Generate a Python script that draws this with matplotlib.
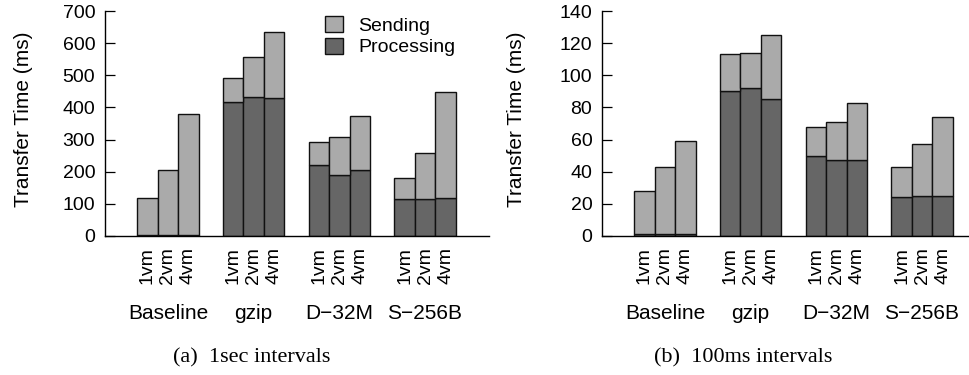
import numpy as np
import matplotlib
matplotlib.use("Agg")
import matplotlib.pyplot as plt

plt.rcParams['font.family'] = ['Liberation Sans', 'DejaVu Sans']

groups = ["Baseline", "gzip", "D\u221232M", "S\u2212256B"]
vms = ["1vm", "2vm", "4vm"]

# 1 second intervals (ms), ordered group by group, 1vm/2vm/4vm
processing_1s = [4, 4, 4, 417, 431, 428, 220, 189, 204, 114, 114, 118]
sending_1s = [115, 201, 377, 74, 126, 206, 71, 120, 170, 68, 143, 329]

# 100 ms intervals (ms)
processing_100ms = [1, 1, 1, 90, 92, 85, 50, 47, 47, 24, 25, 25]
sending_100ms = [27, 42, 58, 23, 22, 40, 18, 24, 36, 19, 32, 49]

LIGHT = "#aaaaaa"
DARK = "#666666"
EDGE = "#111111"

W, H = 969, 375
fig = plt.figure(figsize=(W / 100, H / 100), dpi=100)

group_step = 4.18
offsets = np.array([-1.0, 0.0, 1.0])
xpos = np.concatenate([g * group_step + offsets for g in range(len(groups))])
group_centers = np.arange(len(groups)) * group_step
AX_W = 384


def panel(left_px, proc, send, ymax, ystep, caption, caption_x, ylabel_px):
    ax = fig.add_axes([left_px / W, (H - 236) / H, AX_W / W, 225 / H])
    proc = np.asarray(proc, float)
    send = np.asarray(send, float)
    ax.bar(xpos, proc, width=1.0, color=DARK, edgecolor=EDGE, linewidth=1.0,
           label="Processing", zorder=2)
    ax.bar(xpos, send, width=1.0, bottom=proc, color=LIGHT, edgecolor=EDGE,
           linewidth=1.0, label="Sending", zorder=2)
    ax.set_xlim(-3.07, 15.66)
    ax.set_ylim(0, ymax)
    ax.set_yticks(np.arange(0, ymax + 1, ystep))
    ax.tick_params(axis='y', direction='in', length=7, width=0.9, pad=7,
                   labelsize=14)
    ax.set_xticks(xpos)
    ax.set_xticklabels(vms * len(groups), rotation=90, fontsize=14)
    ax.tick_params(axis='x', length=0, pad=8)
    for s in ("top", "right"):
        ax.spines[s].set_visible(False)
    for s in ("left", "bottom"):
        ax.spines[s].set_linewidth(1.0)
    ax.set_ylabel("Transfer Time (ms)", fontsize=15)
    ax.yaxis.set_label_coords((ylabel_px - left_px) / AX_W, 0.52)
    for gx, name in zip(group_centers, groups):
        ax.annotate(name, xy=(gx, 0), xycoords=('data', 'axes fraction'),
                    xytext=(0, -56), textcoords='offset points',
                    ha='center', va='center', fontsize=15)
    fig.text(caption_x / W, 1 - 358 / H, caption, ha='center', va='center',
             fontsize=16, family='Liberation Serif')
    return ax


ax1 = panel(105, processing_1s, sending_1s, 700, 100,
            "(a)  1sec intervals", 252, 33)
ax2 = panel(602, processing_100ms, sending_100ms, 140, 20,
            "(b)  100ms intervals", 743, 526)

handles, labels = ax1.get_legend_handles_labels()
ax1.legend(handles[::-1], labels[::-1], loc='upper left',
           bbox_to_anchor=(325 / W, 1 - 16 / H), bbox_transform=fig.transFigure,
           frameon=False, fontsize=14, handlelength=0.95, handleheight=0.9,
           handletextpad=0.75, labelspacing=0.15, borderpad=0, borderaxespad=0)

fig.savefig("out.png", dpi=100)
